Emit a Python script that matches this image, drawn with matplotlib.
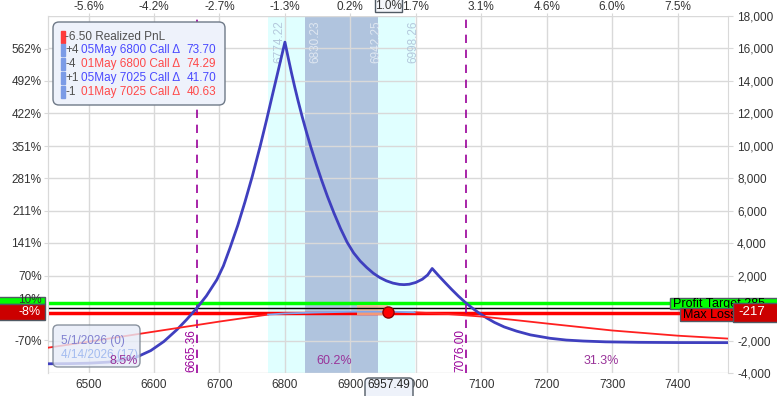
import matplotlib
matplotlib.use("Agg")
import matplotlib.pyplot as plt
from matplotlib.patches import Rectangle, FancyBboxPatch

plt.rcParams['font.family'] = ['Liberation Sans', 'DejaVu Sans']

# ---- data ----
# P&L at 5/1/2026 expiry (short legs expire)
exp_price = [6438, 6470, 6500, 6530, 6555, 6575, 6595, 6615, 6635, 6650, 6665.36,
             6680, 6696, 6706, 6716, 6728, 6739, 6750, 6762, 6772, 6781, 6790, 6800,
             6805, 6810, 6815, 6820, 6826, 6833, 6840, 6848, 6856, 6865, 6875, 6885,
             6895, 6905, 6915, 6925, 6935, 6945, 6955, 6965, 6975, 6982, 6990, 7000,
             7010, 7018, 7025,
             7035, 7045, 7055, 7065, 7075, 7085, 7095, 7108, 7120, 7135, 7154, 7175,
             7205, 7230, 7256, 7290, 7340, 7400, 7477]
exp_pnl = [-3432, -3422, -3395, -3330, -3200, -2990, -2620, -2060, -1330, -700, 0,
           750, 1750, 2600, 3700, 5100, 6550, 8100, 9950, 11600, 13150, 14680, 16390,
           15430, 14500, 13620, 12790, 11850, 10830, 9870, 8850, 7890, 6880, 5850, 4900,
           4060, 3400, 2900, 2500, 2150, 1880, 1680, 1540, 1460, 1445, 1470, 1580,
           1780, 2040, 2440,
           1990, 1560, 1140, 740, 370, 40, -260, -600, -880, -1160, -1420, -1650,
           -1860, -1970, -2030, -2080, -2110, -2125, -2130]

# P&L today (4/14/2026)
t0_price = [6438, 6500, 6600, 6700, 6774.22, 6800, 6850, 6900, 6957.49, 6998.26,
            7050, 7100, 7150, 7200, 7300, 7400, 7477]
t0_pnl = [-2440, -2070, -1450, -830, -400, -330, -270, -225, -217, -260,
          -370, -520, -730, -950, -1380, -1700, -1880]

x_ticks = [6500, 6600, 6700, 6800, 6900, 7000, 7100, 7200, 7300, 7400]
top_labels = ["-5.6%", "-4.2%", "-2.7%", "-1.3%", "0.2%", "1.7%", "3.1%", "4.6%", "6.0%", "7.5%"]
usd_ticks = [-4000, -2000, 0, 2000, 4000, 6000, 8000, 10000, 12000, 14000, 16000, 18000]
pct_ticks = [-141, -70, 70, 141, 211, 281, 351, 422, 492, 562, 633]

cur_price = 6957.49
cur_pnl = -217
profit_target = 285
max_loss = -217
breakevens = [6665.36, 7076.00]
sd1 = (6774.22, 6998.26)
sd_half = (6830.23, 6942.25)
zone_labels = ["8.5%", "60.2%", "31.3%"]
zone_x = [6553, 6875, 7283]

leg_qty = ["+4", "-4", "+1", "-1"]
leg_name = ["05May 6800 Call Δ", "01May 6800 Call Δ", "05May 7025 Call Δ", "01May 7025 Call Δ"]
leg_delta = ["73.70", "74.29", "41.70", "40.63"]
realized = "-6.50 Realized PnL"

# ---- figure ----
fig = plt.figure(figsize=(7.77, 3.96), dpi=100)
ax = fig.add_axes([48/777, 23/396, 680/777, 357/396])
ax.set_xlim(6438, 7477)
ax.set_ylim(-4000, 18000)
ins = fig.dpi_scale_trans
def fx(x): return x/100
def fy(y): return (396-y)/100

tcol = '#333333'
gcol = '#d9d9d9'
ax.grid(True, color=gcol, lw=1)
for s in ['top', 'bottom']:
    ax.spines[s].set_visible(False)
for s in ['left', 'right']:
    ax.spines[s].set_color(gcol)

ax.set_xticks(x_ticks, labels=[str(v) for v in x_ticks])
ax.tick_params(axis='x', length=0, pad=4, labelsize=8.5, labelcolor=tcol)
ax.yaxis.tick_right()
ax.set_yticks(usd_ticks, labels=[f'{v:,}' for v in usd_ticks])
ax.tick_params(axis='y', length=3.5, color=gcol, pad=3, labelsize=8.5, labelcolor=tcol)

sec = ax.secondary_yaxis('left', functions=(lambda v: v/28.45, lambda p: p*28.45))
sec.set_yticks(pct_ticks, labels=[f'{p}%' for p in pct_ticks])
sec.tick_params(length=3, color=gcol, pad=1.5, labelsize=8.5, labelcolor=tcol)
sec.spines['left'].set_color(gcol)

secx = ax.secondary_xaxis('top')
secx.set_xticks(x_ticks, labels=top_labels)
secx.tick_params(length=2, color=gcol, pad=0, labelsize=8.5, labelcolor=tcol)
secx.spines['top'].set_visible(False)

# bands
ax.axvspan(*sd1, color='#e0ffff', lw=0, zorder=1)
ax.axvspan(*sd_half, color='#b0c4de', lw=0, zorder=1.1)
ax.text(sd1[0]+17, 17750, f'{sd1[0]:.2f}', rotation=90, ha='center', va='top', fontsize=8.5, color='#b4c8dc')
ax.text(sd_half[0]+17, 17750, f'{sd_half[0]:.2f}', rotation=90, ha='center', va='top', fontsize=8.5, color='#dfe7f1')
ax.text(sd_half[1]-3, 17750, f'{sd_half[1]:.2f}', rotation=90, ha='center', va='top', fontsize=8.5, color='#dfe7f1')
ax.text(sd1[1]-2, 17750, f'{sd1[1]:.2f}', rotation=90, ha='center', va='top', fontsize=8.5, color='#b4c8dc')

# horizontal levels
ax.add_patch(Rectangle((6910, -400), cur_price-6910, 620, color='#f4b48c', alpha=0.85, lw=0, zorder=2.1))
ax.axhline(profit_target, color='#00ff00', lw=2.5, zorder=2)
ax.axhline(0, color='black', lw=1, zorder=2.2)
ax.axhline(max_loss - 110, color='#ff0000', lw=2.5, zorder=2)

# breakevens
for be in breakevens:
    ax.axvline(be, color='#990099', lw=1.2, ls=(0, (5, 4)), zorder=3)
    ax.text(be-8, -3950, f'{be:.2f}', rotation=90, ha='center', va='bottom', fontsize=8.5, color='#990099', zorder=3)

# curves
ax.plot(exp_price, exp_pnl, color='#3f3fbf', lw=2, zorder=4, solid_joinstyle='round')
inside = [(p, v) for p, v in zip(t0_price, t0_pnl) if sd1[0] <= p <= sd1[1]]
left = [(p, v) for p, v in zip(t0_price, t0_pnl) if p <= sd1[0]]
right = [(p, v) for p, v in zip(t0_price, t0_pnl) if p >= sd1[1]]
for seg, c in [(left, '#ff2020'), (right, '#ff2020'), (inside, '#7fa6ee')]:
    ax.plot([a for a, b in seg], [b for a, b in seg], color=c, lw=1.3, zorder=4)
ax.plot(cur_price, cur_pnl, 'o', ms=8, mfc='#ff0000', mec='#900000', zorder=6)

for s, x in zip(zone_labels, zone_x):
    ax.text(x, -3260, s, ha='center', va='center', fontsize=9, color='#993399', zorder=8)

# legend top-left
ax.add_patch(FancyBboxPatch((fx(53), fy(105)), 172/100, 83/100, boxstyle='round,pad=0,rounding_size=0.06',
                            transform=ins, fc='#eef2fb', ec='#6f7a88', lw=1, zorder=9, clip_on=False))
rows_y = [37, 50, 64, 78, 92]
for i, y in enumerate(rows_y):
    ax.add_patch(Rectangle((fx(61), fy(y+6)), 0.035, 0.12, transform=ins,
                           color='#ff3b3b' if i == 0 else '#7b9be6', zorder=10, clip_on=False))
ax.text(fx(65), fy(rows_y[0]), realized, transform=ins, fontsize=8.5, color='#505050', va='center', zorder=11)
for i in range(4):
    c = '#4a4aff' if leg_qty[i].startswith('+') else '#ff4a4a'
    y = fy(rows_y[i+1])
    ax.text(fx(65), y, leg_qty[i], transform=ins, fontsize=8.5, color='#505050', va='center', zorder=11)
    ax.text(fx(81), y, leg_name[i], transform=ins, fontsize=8.5, color=c, va='center', zorder=11)
    ax.text(fx(216), y, leg_delta[i], transform=ins, fontsize=8.5, color=c, va='center', ha='right', zorder=11)

# legend bottom-left
ax.add_patch(FancyBboxPatch((fx(53), fy(367)), 87/100, 42/100, boxstyle='round,pad=0,rounding_size=0.05',
                            transform=ins, fc='#e6ecf8', ec='#6f7a88', lw=1, alpha=0.8, zorder=7, clip_on=False))
ax.text(fx(61), fy(341), '5/1/2026 (0)', transform=ins, fontsize=8.5, color='#8080d0', va='center', zorder=7.5)
ax.text(fx(61), fy(355), '4/14/2026 (17)', transform=ins, fontsize=8.5, color='#a4bcf0', va='center', zorder=7.5)

# side boxes
def box(x0, y0, x1, y1, fc, z):
    fig.patches.append(Rectangle((fx(x0), fy(y1)), (x1-x0)/100, (y1-y0)/100, transform=ins,
                                 fc=fc, ec='#505a64', lw=1, zorder=z))
box(-2, 297, 45, 304, '#00ff00', 1)
fig.text(fx(42), fy(300), '10%', transform=ins, fontsize=8.5, color='#333333', ha='right', va='center', zorder=2)
box(-2, 304, 45, 320, '#cc0000', 3)
fig.text(fx(41), fy(312), '-8%', transform=ins, fontsize=9, color='white', ha='right', va='center', zorder=4)
box(670, 298, 779, 309, '#00ff00', 1)
fig.text(fx(673), fy(303.5), f'Profit Target {profit_target}', transform=ins, fontsize=9, color='black', va='center', zorder=2)
box(680, 308, 779, 321, '#ee0000', 3)
fig.text(fx(683), fy(315), 'Max Loss', transform=ins, fontsize=9, color='black', va='center', zorder=4)
box(733, 303, 779, 322, '#cc0000', 5)
fig.text(fx(738), fy(312), f'{max_loss}', transform=ins, fontsize=9.5, color='white', va='center', zorder=6)

# current price markers
box(375, -2, 402, 12, '#f4f6fa', 5)
fig.text(fx(388.5), fy(6), '1.0%', transform=ins, fontsize=8.5, color='#333333', ha='center', va='center', zorder=6)
fig.patches.append(FancyBboxPatch((fx(365), fy(400)), 48/100, 22/100, boxstyle='round,pad=0,rounding_size=0.04',
                                  transform=ins, fc='#eef2fa', ec='#505a64', lw=1, zorder=5))
fig.text(fx(389), fy(385), f'{cur_price:.2f}', transform=ins, fontsize=8.5, color='#222222', ha='center', va='center', zorder=6)

fig.savefig('out.png', dpi=100)
